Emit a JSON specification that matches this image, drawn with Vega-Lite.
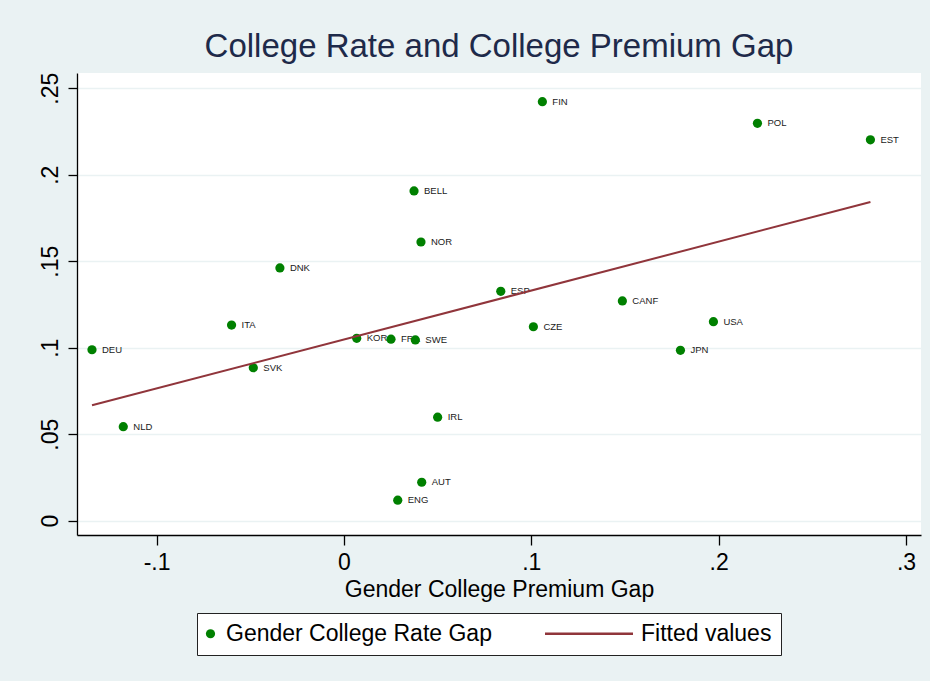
{
  "$schema": "https://vega.github.io/schema/vega-lite/v6.json",
  "width": 844,
  "height": 462,
  "autosize": {"type": "none"},
  "padding": {"left": 77, "top": 73, "right": 9, "bottom": 146},
  "background": "#eaf2f3",
  "config": {
    "view": {"fill": "white", "stroke": null},
    "font": "Liberation Sans"
  },
  "title": {
    "text": "College Rate and College Premium Gap",
    "fontSize": 33,
    "fontWeight": "normal",
    "color": "#1e2a4a",
    "anchor": "middle",
    "frame": "group",
    "offset": 8
  },
  "datasets": {
    "countries": [
      {"country": "DEU", "premium_gap": -0.1345, "rate_gap": 0.0988, "series": "Gender College Rate Gap"},
      {"country": "NLD", "premium_gap": -0.1178, "rate_gap": 0.0543, "series": "Gender College Rate Gap"},
      {"country": "ITA", "premium_gap": -0.0600, "rate_gap": 0.1131, "series": "Gender College Rate Gap"},
      {"country": "SVK", "premium_gap": -0.0484, "rate_gap": 0.0884, "series": "Gender College Rate Gap"},
      {"country": "DNK", "premium_gap": -0.0342, "rate_gap": 0.1461, "series": "Gender College Rate Gap"},
      {"country": "KOR", "premium_gap": 0.0068, "rate_gap": 0.1054, "series": "Gender College Rate Gap"},
      {"country": "FRA", "premium_gap": 0.0251, "rate_gap": 0.1049, "series": "Gender College Rate Gap"},
      {"country": "ENG", "premium_gap": 0.0287, "rate_gap": 0.0118, "series": "Gender College Rate Gap"},
      {"country": "BELL", "premium_gap": 0.0374, "rate_gap": 0.1906, "series": "Gender College Rate Gap"},
      {"country": "SWE", "premium_gap": 0.0381, "rate_gap": 0.1045, "series": "Gender College Rate Gap"},
      {"country": "NOR", "premium_gap": 0.0411, "rate_gap": 0.1611, "series": "Gender College Rate Gap"},
      {"country": "AUT", "premium_gap": 0.0415, "rate_gap": 0.0222, "series": "Gender College Rate Gap"},
      {"country": "IRL", "premium_gap": 0.0500, "rate_gap": 0.0598, "series": "Gender College Rate Gap"},
      {"country": "ESP", "premium_gap": 0.0837, "rate_gap": 0.1326, "series": "Gender College Rate Gap"},
      {"country": "CZE", "premium_gap": 0.1011, "rate_gap": 0.1121, "series": "Gender College Rate Gap"},
      {"country": "FIN", "premium_gap": 0.1059, "rate_gap": 0.2422, "series": "Gender College Rate Gap"},
      {"country": "CANF", "premium_gap": 0.1486, "rate_gap": 0.1270, "series": "Gender College Rate Gap"},
      {"country": "JPN", "premium_gap": 0.1796, "rate_gap": 0.0985, "series": "Gender College Rate Gap"},
      {"country": "USA", "premium_gap": 0.1972, "rate_gap": 0.1150, "series": "Gender College Rate Gap"},
      {"country": "POL", "premium_gap": 0.2207, "rate_gap": 0.2297, "series": "Gender College Rate Gap"},
      {"country": "EST", "premium_gap": 0.2810, "rate_gap": 0.2202, "series": "Gender College Rate Gap"}
    ],
    "fit": [
      {"premium_gap": -0.1345, "rate_gap": 0.0667, "series": "Fitted values"},
      {"premium_gap": 0.2810, "rate_gap": 0.1842, "series": "Fitted values"}
    ]
  },
  "encoding": {
    "x": {
      "field": "premium_gap",
      "type": "quantitative",
      "scale": {"domain": [-0.1425, 0.308], "nice": false, "zero": false},
      "axis": {
        "title": "Gender College Premium Gap",
        "values": [-0.1, 0, 0.1, 0.2, 0.3],
        "labelExpr": "datum.value == 0 ? '0' : (datum.value < 0 ? '-' : '') + replace(format(abs(datum.value), '.2~f'), '0.', '.')",
        "grid": false,
        "domainColor": "#000000",
        "domainWidth": 1.3,
        "tickColor": "#000000",
        "tickSize": 10,
        "tickWidth": 1.3,
        "labelFontSize": 23,
        "labelColor": "#000000",
        "labelPadding": 6,
        "labelFlush": false,
        "labelOverlap": false,
        "titleFontSize": 23,
        "titleFontWeight": "normal",
        "titleColor": "#000000",
        "titlePadding": 4
      }
    },
    "y": {
      "field": "rate_gap",
      "type": "quantitative",
      "scale": {"domain": [-0.0083, 0.2588], "nice": false, "zero": false},
      "axis": {
        "title": null,
        "values": [0, 0.05, 0.1, 0.15, 0.2, 0.25],
        "labelExpr": "datum.value == 0 ? '0' : replace(format(datum.value, '.2~f'), '0.', '.')",
        "grid": true,
        "gridColor": "#eaf2f3",
        "gridWidth": 1.5,
        "domainColor": "#000000",
        "domainWidth": 1.3,
        "tickColor": "#000000",
        "tickSize": 9,
        "tickWidth": 1.3,
        "labelAngle": 270,
        "labelAlign": "center",
        "labelBaseline": "alphabetic",
        "labelPadding": 11,
        "labelFontSize": 23,
        "labelColor": "#000000",
        "labelFlush": false,
        "labelOverlap": false
      }
    }
  },
  "layer": [
    {
      "data": {"name": "countries"},
      "mark": {"type": "text", "align": "left", "baseline": "middle", "dx": 10, "fontSize": 9.5, "color": "#1a1a1a"},
      "encoding": {"text": {"field": "country"}}
    },
    {
      "data": {"name": "countries"},
      "mark": {"type": "point", "filled": true, "opacity": 1},
      "encoding": {
        "fill": {
          "field": "series",
          "type": "nominal",
          "scale": {"domain": ["Gender College Rate Gap", "Fitted values"], "range": ["#008000", "#90353b"]},
          "legend": {
            "title": null,
            "orient": "none",
            "legendX": 120,
            "legendY": 540,
            "direction": "horizontal",
            "fillColor": "white",
            "strokeColor": "#222222",
            "padding": 9,
            "columnPadding": 50,
            "symbolOffset": -7,
            "labelOffset": 4,
            "labelFontSize": 23,
            "labelColor": "#000000",
            "labelLimit": 400
          }
        },
        "shape": {
          "field": "series",
          "type": "nominal",
          "scale": {"domain": ["Gender College Rate Gap", "Fitted values"], "range": ["circle", "M-8.05,-0.125L0.75,-0.125L0.75,0.125L-8.05,0.125Z"]}
        },
        "size": {
          "field": "series",
          "type": "nominal",
          "scale": {"type": "ordinal", "domain": ["Gender College Rate Gap", "Fitted values"], "range": [85, 400]}
        }
      }
    },
    {
      "data": {"name": "fit"},
      "mark": {"type": "line", "strokeWidth": 2},
      "encoding": {
        "stroke": {
          "field": "series",
          "type": "nominal",
          "scale": {"domain": ["Fitted values"], "range": ["#90353b"]},
          "legend": null
        }
      }
    }
  ]
}
